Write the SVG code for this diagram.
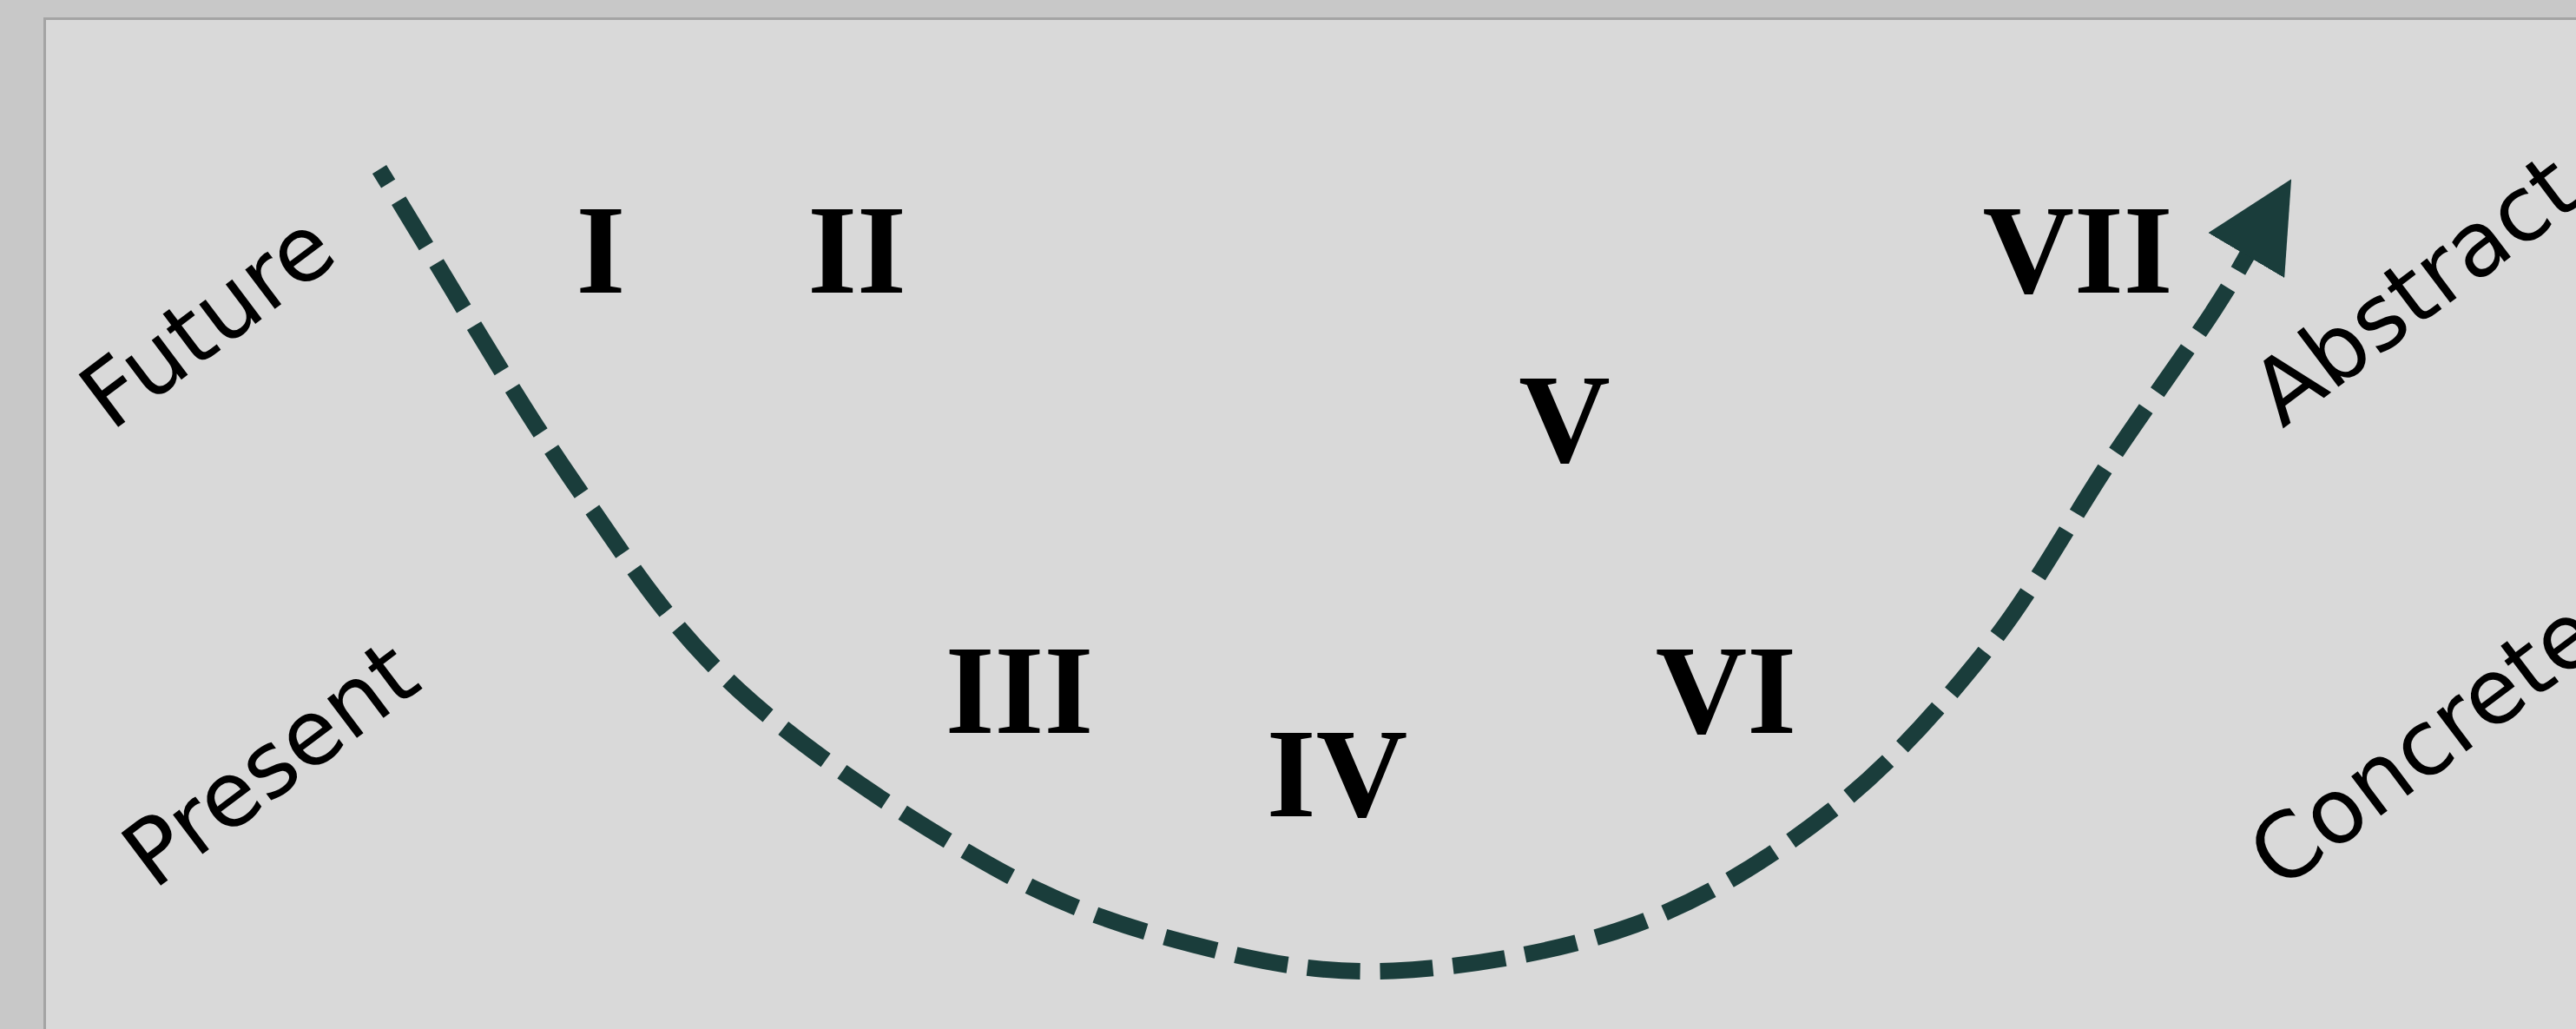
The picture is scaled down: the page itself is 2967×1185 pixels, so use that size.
<svg xmlns="http://www.w3.org/2000/svg" width="2967" height="1185" viewBox="0 0 2967 1185">
<defs>
<style>
.lbl{font-family:"DejaVu Sans",sans-serif;font-size:104px;fill:#000}
.num{font-family:"Liberation Serif","Times New Roman",serif;font-weight:bold;font-size:146px;fill:#000;text-anchor:middle}
.curve{fill:none;stroke:#1a3d3b;stroke-width:19;stroke-dasharray:61 23}
</style>
<marker id="ah" markerUnits="userSpaceOnUse" viewBox="0 0 100 100" markerWidth="102" markerHeight="102" refX="40" refY="50" orient="auto-start-reverse">
<path d="M0,0 L100,50 L0,100 Z" fill="#1a3d3b"/>
</marker>
</defs>
<rect x="0" y="0" width="2967" height="1185" fill="#c8c8c8"/>
<rect x="51.5" y="21.5" width="2940" height="1200" fill="#d9d9d9" stroke="#a4a4a4" stroke-width="3"/>
<g id="connectors">
<path class="curve" marker-start="url(#ah)" d="M2608,259 C2588.7,291.7 2579.5,311.8 2550,357 C2520.5,402.2 2474.5,465 2431,530 C2387.5,595 2342.5,679.8 2289,747 C2235.5,814.2 2177.7,880 2110,933 C2042.3,986 1967.2,1034.2 1883,1065 C1798.8,1095.8 1689.7,1114.2 1605,1118 C1520.3,1121.8 1451.7,1107.8 1375,1088 C1298.3,1068.2 1232.3,1047.8 1145,999 C1057.7,950.2 932.3,869.8 851,795 C769.7,720.2 726,650 657,550 C588,450 510.3,313.3 437,195"/>
</g>
<g id="label-future"><text class="lbl" transform="translate(128,498) rotate(-37)">Future</text></g>
<g id="label-present"><text class="lbl" transform="translate(177,1026) rotate(-37)">Present</text></g>
<g id="label-abstract"><text class="lbl" transform="translate(2629,494) rotate(-37)">Abstract</text></g>
<g id="label-concrete"><text class="lbl" transform="translate(2626,1027) rotate(-37)">Concrete</text></g>
<g id="node-1"><text class="num" x="692" y="337">I</text></g>
<g id="node-2"><text class="num" x="987" y="337">II</text></g>
<g id="node-3"><text class="num" x="1174" y="844">III</text></g>
<g id="node-4"><text class="num" x="1540" y="940">IV</text></g>
<g id="node-5"><text class="num" x="1802" y="532">V</text></g>
<g id="node-6"><text class="num" x="1988" y="844">VI</text></g>
<g id="node-7"><text class="num" x="2393" y="337">VII</text></g>
</svg>
